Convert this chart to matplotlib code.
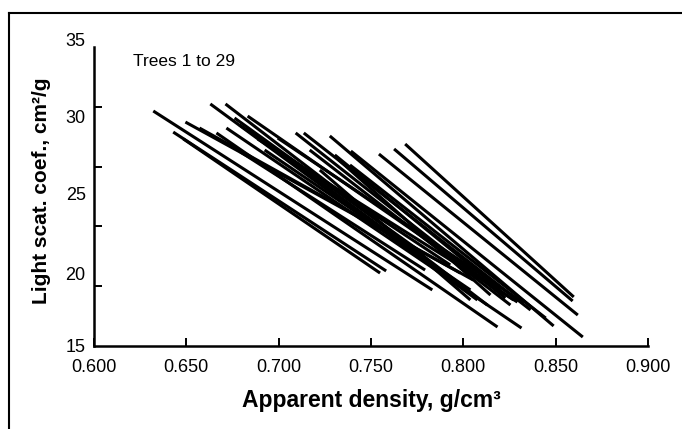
import matplotlib
matplotlib.use("Agg")
import matplotlib.pyplot as plt
from matplotlib.lines import Line2D
from matplotlib.transforms import ScaledTranslation

# ---- data (one regression line per tree: start point and end point) ----
x_start = [0.6321, 0.6429, 0.6484, 0.6495, 0.6571, 0.6630, 0.6663, 0.6712, 0.6717,
           0.6793, 0.6832, 0.6886, 0.6995, 0.7092, 0.7136, 0.7277, 0.7304, 0.7326,
           0.7391, 0.7543, 0.7625, 0.7685, 0.6924, 0.7060, 0.7168, 0.6788, 0.7386,
           0.7223, 0.6761]
y_start = [30.72, 29.31, 28.85, 29.98, 29.58, 31.19, 29.25, 31.19, 29.58,
           27.98, 30.38, 28.85, 28.91, 29.25, 29.25, 29.05, 27.78, 27.44,
           28.04, 27.84, 28.18, 28.51, 28.11, 27.44, 28.11, 29.78, 27.11,
           26.77, 30.25]
x_end = [0.7832, 0.7582, 0.7549, 0.7984, 0.8054, 0.8076, 0.8185, 0.8130, 0.8315,
         0.7793, 0.8272, 0.8293, 0.8326, 0.8228, 0.8364, 0.8489, 0.8201, 0.8147,
         0.8647, 0.8620, 0.8592, 0.8598, 0.8038, 0.7984, 0.8255, 0.7929, 0.8446,
         0.8038, 0.7793]
y_end = [18.75, 20.02, 19.88, 19.88, 19.41, 18.08, 16.27, 17.74, 16.20,
         20.08, 18.08, 17.94, 17.88, 18.21, 17.41, 16.34, 18.75, 18.41,
         15.60, 17.07, 18.01, 18.28, 18.75, 19.08, 17.74, 20.42, 16.87,
         18.08, 21.09]

x_ticks = [0.600, 0.650, 0.700, 0.750, 0.800, 0.850, 0.900]
x_tick_labels = ["0.600", "0.650", "0.700", "0.750", "0.800", "0.850", "0.900"]
y_label_values = [15, 20, 25, 30, 35]
y_mark_values = [15, 19, 23, 27, 31, 35]

FAM = ["Liberation Sans", "DejaVu Sans"]

fig = plt.figure(figsize=(6.82, 4.29), dpi=100)
ax = fig.add_axes([94 / 682, 1 - 346 / 429, (648 - 94) / 682, (346 - 47) / 429])

for xs, ys, xe, ye in zip(x_start, y_start, x_end, y_end):
    ax.plot([xs, xe], [ys, ye], color="black", lw=2.2, solid_capstyle="butt")

ax.set_xlim(0.6, 0.9)
ax.set_ylim(15, 35)

for s in ["top", "right"]:
    ax.spines[s].set_visible(False)
for s in ["left", "bottom"]:
    ax.spines[s].set_linewidth(1.8)

ax.set_xticks(x_ticks)
ax.set_xticklabels(x_tick_labels, family=FAM, fontsize=13)
ax.tick_params(axis="x", direction="in", length=6, width=1.4, pad=9)

ax.set_yticks(y_label_values)
ax.set_yticklabels([str(v) for v in y_label_values], family=FAM, fontsize=13)
ax.tick_params(axis="y", which="major", length=0, pad=6)
ax.set_yticks(y_mark_values, minor=True)
ax.tick_params(axis="y", which="minor", direction="in", length=6, width=1.4)

# small vertical shifts of the y labels as printed in the original
y_label_shift_px = [0, -2, 3, 5, 7]
for lab, dy in zip(ax.get_yticklabels(), y_label_shift_px):
    lab.set_transform(lab.get_transform() + ScaledTranslation(0, dy / 100, fig.dpi_scale_trans))

ax.set_xlabel("Apparent density, g/cm³", family=FAM, fontsize=16.5, fontweight="bold", labelpad=10)
ax.set_ylabel("Light scat. coef., cm²/g", family=FAM, fontsize=15, fontweight="bold")
ax.yaxis.set_label_coords(-0.077, 0.52)

ax.text(133 / 682, 1 - 62 / 429, "Trees 1 to 29", transform=fig.transFigure,
        family=FAM, fontsize=12.5, va="center", ha="left")

# page border of the scanned figure
fig.add_artist(Line2D([9 / 682, 9 / 682], [0, 1 - 13 / 429], transform=fig.transFigure,
                      color="black", lw=1.5))
fig.add_artist(Line2D([9 / 682, 1], [1 - 13 / 429, 1 - 13 / 429], transform=fig.transFigure,
                      color="black", lw=1.5))

fig.savefig("out.png", dpi=100)
